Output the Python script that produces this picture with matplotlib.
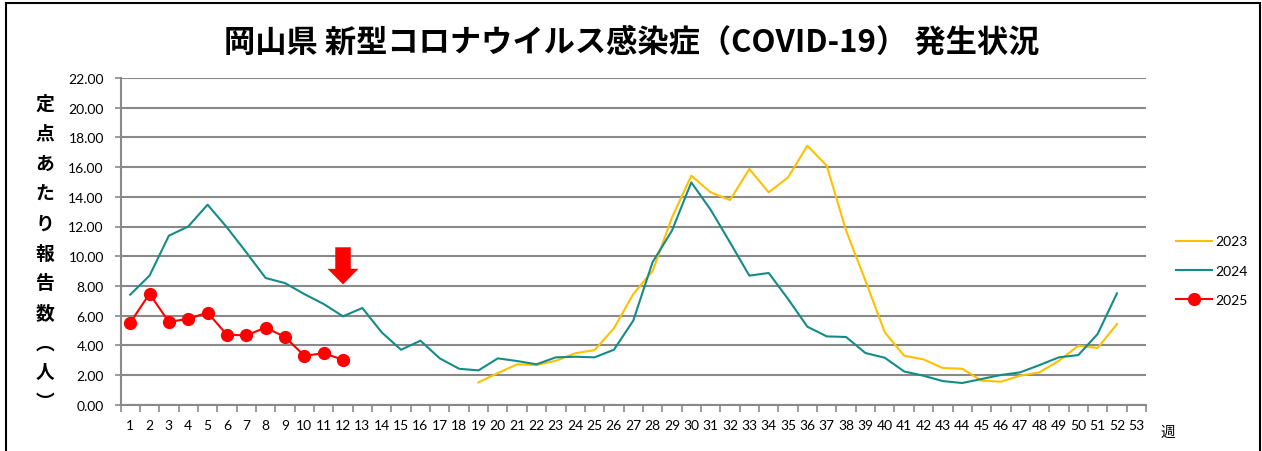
import matplotlib
matplotlib.use("Agg")
import matplotlib.pyplot as plt
from matplotlib.patches import FancyArrow, Rectangle

plt.rcParams['font.family'] = ['Lato', 'Noto Sans CJK JP', 'DejaVu Sans']

# weekly values (reports per sentinel site)
weeks = list(range(1, 54))
weeks_2023 = list(range(19, 53))
vals_2023 = [1.50, 2.13, 2.72, 2.67, 2.96, 3.46, 3.68, 5.14, 7.45, 9.0,
             12.6, 15.42, 14.3, 13.78, 15.87, 14.3, 15.31, 17.44, 16.09, 11.72,
             8.35, 4.87, 3.30, 3.05, 2.47, 2.42, 1.62, 1.55, 1.95, 2.18,
             2.96, 3.97, 3.82, 5.43]
weeks_2024 = list(range(1, 53))
vals_2024 = [7.41, 8.69, 11.38, 12.0, 13.47, 11.94, 10.26, 8.53, 8.19, 7.45,
             6.78, 5.95, 6.51, 4.87, 3.70, 4.31, 3.12, 2.42, 2.31, 3.12,
             2.94, 2.72, 3.19, 3.23, 3.19, 3.70, 5.66, 9.6, 11.72, 14.97,
             13.13, 10.93, 8.69, 8.87, 7.12, 5.25, 4.60, 4.56, 3.48, 3.16,
             2.24, 1.95, 1.59, 1.46, 1.73, 2.0, 2.18, 2.67, 3.19, 3.34,
             4.76, 7.50]
weeks_2025 = list(range(1, 13))
vals_2025 = [5.52, 7.47, 5.57, 5.79, 6.2, 4.71, 4.67, 5.19, 4.56, 3.30,
             3.46, 3.03]

title = "岡山県 新型コロナウイルス感染症（COVID-19） 発生状況"
ylabel_chars = ["定", "点", "あ", "た", "り", "報", "告", "数", "︵", "人", "︶"]
latest_week = 12

W, H = 1262, 452
fig = plt.figure(figsize=(W / 100, H / 100), dpi=100)
ax = fig.add_axes([120.5 / W, 1 - 405.7 / H, (1146 - 120.5) / W, (405.7 - 79) / H])

grid_c = "#898989"
ax.plot(weeks_2023, vals_2023, color="#FFC000", lw=1.5, label="2023")
ax.plot(weeks_2024, vals_2024, color="#138C86", lw=1.5, label="2024")
ax.plot(weeks_2025, vals_2025, color="#FF0000", lw=1.5, marker="o",
        markersize=8.5, label="2025", zorder=4)

# red arrow pointing at the latest week
ax.add_patch(FancyArrow(latest_week, 10.6, 0, -2.5, width=0.8, head_width=1.6,
                        head_length=1.05, length_includes_head=True,
                        color="#FF0000", lw=0, zorder=5))

ax.set_xlim(0.5, 53.5)
ax.set_ylim(0, 22)
ax.set_yticks(range(0, 23, 2))
ax.set_yticklabels(["%.2f" % v for v in range(0, 23, 2)], fontsize=10)
ax.yaxis.grid(True, color=grid_c, lw=1.5)
ax.set_axisbelow(True)

ax.set_xticks([w - 0.5 for w in weeks] + [53.5])
ax.set_xticklabels([])
ax.set_xticks(weeks, minor=True)
ax.set_xticklabels([str(w) for w in weeks], minor=True, fontsize=10)
ax.tick_params(axis="x", which="major", length=5, color=grid_c, width=1.2)
ax.tick_params(axis="x", which="minor", length=0, pad=10)
ax.tick_params(axis="y", length=4, color=grid_c, width=1.2, pad=8)

for s in ["top", "right"]:
    ax.spines[s].set_visible(False)
for s in ["left", "bottom"]:
    ax.spines[s].set_color(grid_c)
    ax.spines[s].set_linewidth(1.5)

fig.text(632 / W, 1 - 43 / H, title, ha="center", va="center",
         fontsize=22.5, fontweight="bold", family=["Noto Sans CJK JP"])

# vertical y-axis label, one character per line
y = 104
for ch in ylabel_chars:
    if ch in "︵︶":
        step = 29
    else:
        step = 30
    fig.text(45 / W, 1 - y / H, ch, ha="center", va="center",
             fontsize=13.5, fontweight="bold", family=["Noto Sans CJK JP"])
    y += step
fig.text(1168 / W, 1 - 433 / H, "週", ha="center", va="center",
         fontsize=10.5, family=["Noto Sans CJK JP"])

fig.legend(loc="upper left", bbox_to_anchor=(1163 / W, 1 - 224 / H),
           frameon=False, fontsize=10, handlelength=2.6, labelspacing=1.25,
           handletextpad=0.3)

# outer frame
fig.add_artist(Rectangle((6 / W, -0.1), (1260 - 6) / W, 1.1 - 4 / H,
                         transform=fig.transFigure, fill=False,
                         edgecolor="black", lw=1.5))

fig.savefig("out.png", dpi=100)
